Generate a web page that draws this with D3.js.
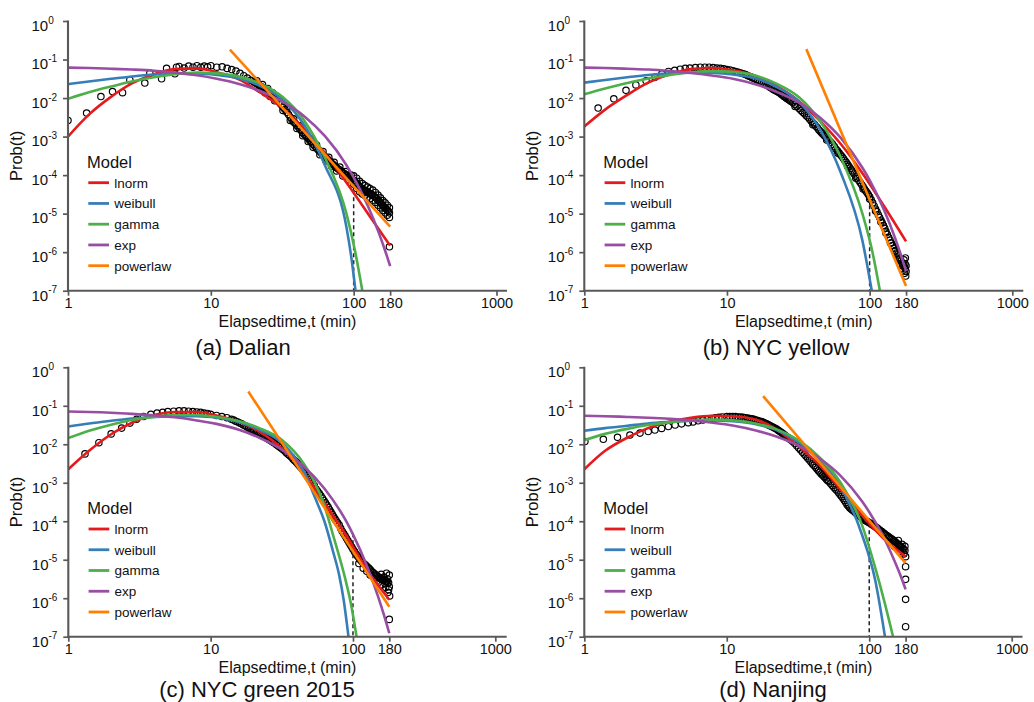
<!DOCTYPE html>
<html><head><meta charset="utf-8">
<script src="https://cdn.jsdelivr.net/npm/d3@7"></script>
<style>body{margin:0;background:#fff;} svg{display:block;font-family:"Liberation Sans",Arial,sans-serif;}</style>
</head><body><svg id="c" width="1034" height="702"></svg>
<script>
// ---------------- DATA ----------------
const models = ["lnorm","weibull","gamma","exp","powerlaw"];
const modelColors = ["#E41A1C","#377EB8","#4DAF4A","#984EA3","#FF7F00"];
const xTicks = [1,10,100,180,1000];
const yTickExps = [0,-1,-2,-3,-4,-5,-6,-7];
const captions = ["(a) Dalian","(b) NYC yellow","(c) NYC green 2015","(d) Nanjing"];
const xTitle = "Elapsedtime,t (min)";
const yTitle = "Prob(t)";
const legendTitle = "Model";
const cutoffT = 100;
const cutoffTopLog = [-4.03,-4.6,-4.31,-4.05];

// empirical points: [t (min), log10 Prob(t)]
const dalianPoints = [[1,-2.58],[1.35,-2.39],[1.7,-1.96],[2.05,-1.83],[2.41,-1.86],[2.71,-1.53],[3.45,-1.61],[3.74,-1.36],[4.52,-1.5],[4.9,-1.23],[5.6,-1.37],[5.75,-1.2],
[6,-1.18],[6.5,-1.22],[7,-1.17],[7.5,-1.2],[8,-1.16],[8.5,-1.2],[9,-1.17],[9.5,-1.19],[10,-1.16],[11,-1.2],[12,-1.19],[13,-1.23],[14,-1.26],[15,-1.3],[16,-1.36],[17,-1.42],[18,-1.48],[19,-1.54],[20,-1.58],[21,-1.63],[22,-1.68],[23,-1.73],[24,-1.78],[25,-1.83],[26,-1.88],[27,-1.94],[28,-1.99],[30,-2.1],[32,-2.24],[34,-2.37],[36,-2.5],[38,-2.62],[40,-2.71],[42,-2.8],[44,-2.9],[46,-2.98],[48,-3.05],[50,-3.13],[52,-3.2],[55,-3.3],[58,-3.39],[61,-3.47],[64,-3.55],[67,-3.62],[70,-3.69],[73,-3.75],[76,-3.81],[80,-3.87],[84,-3.94],[88,-3.99],[92,-4.04],[96,-4.09],[100,-4.14],[105,-4.22],[110,-4.3],[115,-4.36],[120,-4.4],[125,-4.44],[130,-4.48],[136,-4.52],[142,-4.58],[148,-4.65],[154,-4.72],[160,-4.79],[166,-4.85],[172,-4.91],[178,-4.98],
[20.5,-1.6],[21.5,-1.65],[22.5,-1.7],[23.5,-1.75],[24.5,-1.8],[25.5,-1.85],[26.5,-1.91],[27.5,-1.96],[29,-2.04],[31,-2.17],[33,-2.3],[35,-2.43],[37,-2.56],[39,-2.66],[41,-2.75],[43,-2.85],[45,-2.94],[47,-3.01],[49,-3.09],[51,-3.16],[53.5,-3.25],[56.5,-3.35],[59.5,-3.43],[62.5,-3.51],[65.5,-3.58],[68.5,-3.65],[71.5,-3.72],[74.5,-3.78],[78,-3.84],[82,-3.9],[86,-3.96],[90,-4.01],[94,-4.06],[98,-4.11],[102.5,-4.18],[107.5,-4.26],[112.5,-4.33],[117.5,-4.38],[122.5,-4.42],[127.5,-4.46],[133,-4.5],[139,-4.55],[145,-4.61],[151,-4.68],[157,-4.75],[163,-4.82],[169,-4.88],[175,-4.94],
[21,-1.55],[23,-1.65],[25,-1.75],[27,-1.86],[30,-2.02],[34,-2.29],[38,-2.54],[42,-2.72],[46,-2.9],[50,-3.05],[55,-3.22],[61,-3.39],[67,-3.54],[73,-3.67],[80,-3.79],[88,-3.91],[96,-4.0],[100,-4.02],[105,-4.08],[110,-4.16],[115,-4.22],[120,-4.27],[125,-4.31],[130,-4.35],[136,-4.39],[142,-4.45],[148,-4.52],[154,-4.59],[160,-4.66],[166,-4.72],[172,-4.78],[178,-4.85],
[22,-1.76],[24,-1.86],[26,-1.96],[28,-2.07],[32,-2.32],[36,-2.58],[40,-2.79],[44,-2.98],[48,-3.13],[52,-3.28],[58,-3.47],[64,-3.63],[70,-3.77],[76,-3.89],[84,-4.02],[92,-4.12],[100,-4.24],[105,-4.35],[110,-4.43],[115,-4.49],[120,-4.53],[125,-4.57],[130,-4.61],[136,-4.65],[142,-4.71],[148,-4.78],[154,-4.85],[160,-4.92],[166,-4.98],[172,-5.04],[178,-5.1],
[178,-5.86]];
const nycYellowPoints = [[1.25,-2.26],[1.61,-2.02],[1.96,-1.8],[2.3,-1.66],[2.71,-1.55],[3.13,-1.46],[3.5,-1.37],[3.89,-1.31],[4.3,-1.28],[4.7,-1.25],[5.1,-1.23],[5.5,-1.22],[6,-1.21],[6.5,-1.2],[7,-1.2],[7.5,-1.2],[8,-1.21],[8.5,-1.22],[9,-1.23],[9.5,-1.24],[10,-1.26],[11,-1.29],[12,-1.33],[13,-1.37],[14,-1.42],[15,-1.47],[16,-1.52],[17,-1.57],[18,-1.62],[19,-1.67],[20,-1.72],[21,-1.77],[22,-1.81],[23,-1.85],[24,-1.9],[25,-1.95],[26,-2.0],[27,-2.04],[28,-2.08],[30,-2.17],[32,-2.27],[34,-2.37],[36,-2.46],[38,-2.55],[40,-2.64],[42,-2.73],[44,-2.82],[46,-2.9],[48,-2.97],[50,-3.04],[52,-3.1],[55,-3.2],[58,-3.32],[61,-3.42],[64,-3.52],[67,-3.62],[70,-3.72],[73,-3.82],[76,-3.92],[80,-4.03],[84,-4.14],[88,-4.25],[92,-4.36],[96,-4.46],[100,-4.56],[105,-4.72],[110,-4.88],[115,-5.03],[120,-5.17],[125,-5.31],[130,-5.46],[136,-5.62],[142,-5.76],[148,-5.9],[154,-6.02],[160,-6.13],[166,-6.23],[172,-6.33],[178,-6.43],
[10.5,-1.27],[11.5,-1.31],[12.5,-1.35],[13.5,-1.39],[14.5,-1.44],[15.5,-1.49],[16.5,-1.54],[17.5,-1.59],[18.5,-1.64],[19.5,-1.69],[20.5,-1.74],[21.5,-1.79],[22.5,-1.83],[23.5,-1.87],[24.5,-1.92],[25.5,-1.97],[26.5,-2.02],[27.5,-2.06],[29,-2.12],[31,-2.22],[33,-2.32],[35,-2.41],[37,-2.5],[39,-2.6],[41,-2.68],[43,-2.77],[45,-2.86],[47,-2.93],[49,-3.0],[51,-3.07],[53.5,-3.15],[56.5,-3.26],[59.5,-3.37],[62.5,-3.47],[65.5,-3.57],[68.5,-3.67],[71.5,-3.77],[74.5,-3.87],[78,-3.97],[82,-4.08],[86,-4.2],[90,-4.3],[94,-4.41],[98,-4.51],[102.5,-4.64],[107.5,-4.8],[112.5,-4.95],[117.5,-5.1],[122.5,-5.24],[127.5,-5.38],[133,-5.54],[139,-5.69],[145,-5.83],[151,-5.96],[157,-6.07],[163,-6.18],[169,-6.28],[175,-6.38],
[174,-6.2],[176,-6.55],[178,-6.15],[179,-6.62],[180,-6.35],[177,-6.3],[180,-6.5],
[30,-2.22],[40,-2.69],[50,-3.09],[60,-3.43],[70,-3.77],[80,-4.08],[90,-4.36],[100,-4.62],[110,-4.93],[120,-5.22],[130,-5.5],[140,-5.76],[150,-5.98],[160,-6.18],[170,-6.35]];
const nycGreenPoints = [[1.31,-2.25],[1.64,-1.96],[2.0,-1.73],[2.37,-1.58],[2.71,-1.45],[3.02,-1.35],[3.38,-1.28],[3.8,-1.22],[4.2,-1.19],[4.6,-1.17],[5,-1.15],[5.5,-1.14],[6,-1.13],[6.5,-1.13],[7,-1.14],[7.5,-1.15],[8,-1.16],[8.5,-1.17],[9,-1.19],[9.5,-1.2],[10,-1.22],[11,-1.25],[12,-1.28],[13,-1.31],[14,-1.35],[15,-1.4],[16,-1.45],[17,-1.5],[18,-1.55],[19,-1.6],[20,-1.64],[21,-1.68],[22,-1.72],[23,-1.76],[24,-1.8],[25,-1.85],[26,-1.89],[27,-1.93],[28,-1.97],[30,-2.05],[32,-2.13],[34,-2.22],[36,-2.3],[38,-2.39],[40,-2.47],[42,-2.56],[44,-2.64],[46,-2.73],[48,-2.82],[50,-2.92],[52,-3.01],[55,-3.16],[58,-3.28],[61,-3.4],[64,-3.52],[67,-3.64],[70,-3.76],[73,-3.88],[76,-3.98],[80,-4.1],[84,-4.26],[88,-4.38],[92,-4.5],[96,-4.62],[100,-4.73],[105,-4.85],[110,-4.95],[115,-5.04],[120,-5.11],[125,-5.17],[130,-5.23],[136,-5.31],[142,-5.37],[148,-5.42],[154,-5.47],[160,-5.51],[166,-5.54],[172,-5.57],[178,-5.6],
[14.5,-1.37],[15.5,-1.42],[16.5,-1.47],[17.5,-1.52],[18.5,-1.57],[19.5,-1.62],[20.5,-1.66],[21.5,-1.7],[22.5,-1.74],[23.5,-1.78],[24.5,-1.82],[25.5,-1.87],[26.5,-1.91],[27.5,-1.95],[29,-2.01],[31,-2.09],[33,-2.17],[35,-2.26],[37,-2.34],[39,-2.43],[41,-2.51],[43,-2.6],[45,-2.68],[47,-2.77],[49,-2.87],[51,-2.96],[53.5,-3.08],[56.5,-3.22],[59.5,-3.34],[62.5,-3.46],[65.5,-3.58],[68.5,-3.7],[71.5,-3.82],[74.5,-3.93],[78,-4.04],[82,-4.18],[86,-4.32],[90,-4.44],[94,-4.56],[98,-4.67],[102.5,-4.79],[107.5,-4.9],[112.5,-5.0],[117.5,-5.08],[122.5,-5.14],[127.5,-5.2],[133,-5.27],[139,-5.34],[145,-5.4],[151,-5.45],[157,-5.49],[163,-5.53],[169,-5.56],[175,-5.59],
[110,-5.1],[118,-5.22],[125,-5.3],[132,-5.4],[145,-5.5],[150,-5.6],[158,-5.38],[160,-5.65],[165,-5.45],[168,-5.62],[170,-5.72],[172,-5.35],[175,-5.5],[176,-5.85],[178,-5.78],[180,-5.4],[180,-5.7],[181,-5.94],[180,-6.55]];
const nanjingPoints = [[1.01,-1.93],[1.36,-1.87],[1.71,-1.82],[2.09,-1.76],[2.46,-1.71],[2.81,-1.67],[3.13,-1.63],[3.49,-1.59],[3.89,-1.54],[4.34,-1.5],[4.82,-1.47],[5.37,-1.44],[5.8,-1.42],[6.3,-1.39],[6.8,-1.37],[7.3,-1.35],[7.8,-1.33],[8.3,-1.31],[8.8,-1.3],[9.3,-1.29],[10,-1.28],[11,-1.28],[12,-1.29],[13,-1.3],[14,-1.32],[15,-1.34],[16,-1.37],[17,-1.4],[18,-1.43],[19,-1.47],[20,-1.51],[21,-1.55],[22,-1.59],[23,-1.64],[24,-1.69],[25,-1.74],[26,-1.79],[27,-1.83],[28,-1.88],[30,-1.98],[32,-2.1],[34,-2.21],[36,-2.31],[38,-2.41],[40,-2.51],[42,-2.6],[44,-2.69],[46,-2.77],[48,-2.84],[50,-2.91],[52,-2.97],[55,-3.07],[58,-3.17],[61,-3.26],[64,-3.36],[67,-3.46],[70,-3.57],[73,-3.65],[76,-3.71],[80,-3.78],[84,-3.84],[88,-3.9],[92,-3.96],[96,-4.0],[100,-4.04],[105,-4.09],[110,-4.14],[115,-4.19],[120,-4.25],[125,-4.3],[130,-4.35],[136,-4.4],[142,-4.45],[148,-4.5],[154,-4.55],[160,-4.61],[166,-4.66],[172,-4.71],[178,-4.76],
[10.5,-1.28],[11.5,-1.28],[12.5,-1.29],[13.5,-1.31],[14.5,-1.33],[15.5,-1.35],[16.5,-1.38],[17.5,-1.41],[18.5,-1.45],[19.5,-1.49],[20.5,-1.53],[21.5,-1.57],[22.5,-1.61],[23.5,-1.66],[24.5,-1.71],[25.5,-1.76],[26.5,-1.81],[27.5,-1.85],[29,-1.93],[31,-2.04],[33,-2.15],[35,-2.26],[37,-2.36],[39,-2.46],[41,-2.55],[43,-2.64],[45,-2.73],[47,-2.8],[49,-2.87],[51,-2.94],[53.5,-3.02],[56.5,-3.12],[59.5,-3.21],[62.5,-3.31],[65.5,-3.41],[68.5,-3.51],[71.5,-3.61],[74.5,-3.68],[78,-3.74],[82,-3.81],[86,-3.87],[90,-3.93],[94,-3.98],[98,-4.02],[102.5,-4.06],[107.5,-4.11],[112.5,-4.16],[117.5,-4.22],[122.5,-4.27],[127.5,-4.32],[133,-4.37],[139,-4.42],[145,-4.47],[151,-4.52],[157,-4.58],[163,-4.63],[169,-4.68],[175,-4.73],
[140,-4.55],[150,-4.65],[160,-4.5],[165,-4.78],[170,-4.6],[175,-4.85],[178,-4.65],[180,-4.92],[180,-5.18],[180,-5.51],[180,-6.03],[180,-6.74]];

// fitted model curves: [t (min), log10 Prob(t)]
const dalianLnorm = [[1,-3.0],[1.4,-2.43],[2,-1.97],[2.8,-1.62],[4,-1.38],[5.6,-1.25],[8,-1.23],[11,-1.33],[16,-1.53],[22,-1.85],[32,-2.27],[45,-2.8],[63,-3.44],[89,-4.19],[126,-5.0],[180,-5.83]];
const dalianWeibull = [[1,-1.64],[1.4,-1.57],[2,-1.5],[2.8,-1.44],[4,-1.39],[5.6,-1.36],[8,-1.36],[11,-1.4],[16,-1.5],[22,-1.68],[32,-2.05],[45,-2.7],[63,-3.75],[89,-5.35],[96,-6.1],[103,-7.0]];
const dalianGamma = [[1,-2.02],[1.4,-1.85],[2,-1.7],[2.8,-1.57],[4,-1.46],[5.6,-1.38],[8,-1.34],[11,-1.36],[16,-1.45],[22,-1.62],[32,-1.98],[45,-2.58],[63,-3.55],[89,-5.0],[102,-5.95],[115,-7.0]];
const dalianExp = [[1,-1.21],[1.4,-1.22],[2,-1.24],[2.8,-1.26],[4,-1.29],[5.6,-1.34],[8,-1.41],[11,-1.5],[16,-1.64],[22,-1.81],[32,-2.1],[45,-2.47],[63,-2.99],[89,-3.74],[100,-4.06],[126,-4.81],[150,-5.5],[165,-5.93],[180,-6.36]];
const dalianPowerlaw = [[13.6,-0.74],[180,-5.34]];

const nycYellowLnorm = [[1,-2.74],[1.4,-2.3],[2,-1.92],[2.8,-1.6],[4,-1.38],[5.6,-1.25],[8,-1.22],[11,-1.28],[16,-1.43],[22,-1.68],[32,-2.08],[45,-2.6],[63,-3.2],[89,-3.95],[126,-4.8],[180,-5.72]];
const nycYellowWeibull = [[1,-1.6],[1.4,-1.53],[2,-1.46],[2.8,-1.4],[4,-1.36],[5.6,-1.34],[8,-1.35],[11,-1.39],[16,-1.49],[22,-1.7],[32,-2.1],[45,-2.82],[63,-3.95],[89,-5.7],[103.5,-7.0]];
const nycYellowGamma = [[1,-1.9],[1.4,-1.75],[2,-1.61],[2.8,-1.49],[4,-1.4],[5.6,-1.33],[8,-1.3],[11,-1.32],[16,-1.42],[22,-1.62],[32,-1.98],[45,-2.6],[63,-3.55],[89,-5.0],[104,-5.95],[118,-7.0]];
const nycYellowExp = [[1,-1.21],[1.4,-1.22],[2,-1.24],[2.8,-1.26],[4,-1.3],[5.6,-1.35],[8,-1.42],[11,-1.5],[16,-1.65],[22,-1.83],[32,-2.12],[45,-2.51],[63,-3.04],[89,-3.81],[100,-4.13],[126,-4.9],[150,-5.61],[165,-6.05],[180,-6.49]];
const nycYellowPowerlaw = [[36,-0.73],[180,-6.88]];

const nycGreenLnorm = [[1,-2.65],[1.4,-2.17],[2,-1.74],[2.8,-1.44],[4,-1.24],[5.6,-1.16],[8,-1.16],[11,-1.25],[16,-1.42],[22,-1.67],[32,-2.12],[45,-2.73],[63,-3.52],[89,-4.35],[126,-5.27],[180,-6.04]];
const nycGreenWeibull = [[1,-1.54],[1.4,-1.46],[2,-1.39],[2.8,-1.33],[4,-1.29],[5.6,-1.27],[8,-1.27],[11,-1.31],[16,-1.43],[22,-1.62],[32,-1.98],[45,-2.7],[55,-3.45],[63,-4.0],[73,-4.83],[80,-5.4],[86,-6.04],[93,-7.0]];
const nycGreenGamma = [[1,-1.84],[1.4,-1.65],[2,-1.49],[2.8,-1.37],[4,-1.29],[5.6,-1.24],[8,-1.24],[11,-1.29],[16,-1.4],[22,-1.58],[32,-1.9],[45,-2.5],[63,-3.6],[73,-4.4],[89,-5.55],[95.5,-6.04],[106,-7.0]];
const nycGreenExp = [[1,-1.15],[1.4,-1.16],[2,-1.18],[2.8,-1.21],[4,-1.25],[5.6,-1.3],[8,-1.38],[11,-1.47],[16,-1.63],[22,-1.83],[32,-2.15],[45,-2.57],[63,-3.15],[89,-3.98],[100,-4.34],[126,-5.18],[150,-5.95],[165,-6.43],[180,-6.91]];
const nycGreenPowerlaw = [[18.4,-0.63],[180,-6.22]];

const nanjingLnorm = [[1,-2.65],[1.4,-2.17],[2,-1.83],[2.8,-1.58],[4,-1.41],[5.6,-1.31],[8,-1.26],[11,-1.27],[16,-1.36],[22,-1.6],[32,-2.05],[45,-2.55],[63,-3.18],[89,-3.85],[126,-4.45],[180,-4.92]];
const nanjingWeibull = [[1,-1.65],[1.4,-1.58],[2,-1.52],[2.8,-1.46],[4,-1.42],[5.6,-1.39],[8,-1.38],[11,-1.4],[16,-1.48],[22,-1.62],[32,-1.95],[45,-2.42],[63,-3.1],[89,-4.35],[110,-5.52],[129,-7.0]];
const nanjingGamma = [[1,-1.89],[1.4,-1.73],[2,-1.6],[2.8,-1.5],[4,-1.43],[5.6,-1.38],[8,-1.36],[11,-1.38],[16,-1.46],[22,-1.6],[32,-1.9],[45,-2.35],[63,-3.0],[89,-4.1],[110,-5.2],[128,-6.1],[147,-7.0]];
const nanjingExp = [[1,-1.26],[1.4,-1.27],[2,-1.29],[2.8,-1.31],[4,-1.34],[5.6,-1.38],[8,-1.44],[11,-1.51],[16,-1.64],[22,-1.79],[32,-2.04],[45,-2.37],[63,-2.82],[89,-3.48],[100,-3.76],[126,-4.41],[150,-5.02],[165,-5.39],[180,-5.77]];
const nanjingPowerlaw = [[18,-0.75],[180,-5.09]];

// ---------------- BUILD ----------------
const panelPoints = [dalianPoints, nycYellowPoints, nycGreenPoints, nanjingPoints];
const panelFits = [
  [dalianLnorm, dalianWeibull, dalianGamma, dalianExp, dalianPowerlaw],
  [nycYellowLnorm, nycYellowWeibull, nycYellowGamma, nycYellowExp, nycYellowPowerlaw],
  [nycGreenLnorm, nycGreenWeibull, nycGreenGamma, nycGreenExp, nycGreenPowerlaw],
  [nanjingLnorm, nanjingWeibull, nanjingGamma, nanjingExp, nanjingPowerlaw]
];

// layout (pixels)
const layout = [
  {x1:68,   x1000:496.5,  xEnd:507,    yTop:21,    yBot:290.7, capX:243, capY:355},
  {x1:584.3,x1000:1012.3, xEnd:1023.3, yTop:21,    yBot:290.7, capX:776, capY:355},
  {x1:68.3, x1000:495.3,  xEnd:506.7,  yTop:367.3, yBot:636.7, capX:257, capY:696.5},
  {x1:584.3,x1000:1011.7, xEnd:1022.5, yTop:367.3, yBot:636.7, capX:773, capY:696.5}
];
const AXIS = "#595959", TXT = "#111";
const svg = d3.select("#c");
const defs = svg.append("defs");

layout.forEach((L, i) => {
  const x = d3.scaleLog().domain([1,1000]).range([L.x1, L.x1000]);
  const y = d3.scaleLog().domain([1e-7,1]).range([L.yBot, L.yTop]);
  const g = svg.append("g");
  const cid = "clip" + i;
  defs.append("clipPath").attr("id", cid).append("rect")
    .attr("x", L.x1).attr("y", L.yTop - 30).attr("width", L.xEnd - L.x1 + 10).attr("height", L.yBot - L.yTop + 30);
  const plot = g.append("g").attr("clip-path", `url(#${cid})`);

  plot.append("g").selectAll("circle").data(panelPoints[i]).join("circle")
    .attr("cx", d => x(d[0])).attr("cy", d => y(Math.pow(10, d[1])))
    .attr("r", 3.2).attr("fill", "none").attr("stroke", "#000").attr("stroke-width", 1.15);

  plot.append("line")
    .attr("x1", x(cutoffT)).attr("x2", x(cutoffT))
    .attr("y1", y(Math.pow(10, cutoffTopLog[i]))).attr("y2", L.yBot)
    .attr("stroke", "#222").attr("stroke-width", 1.5).attr("stroke-dasharray", "4,3");

  const line = d3.line().x(d => x(d[0])).y(d => y(Math.pow(10, d[1]))).curve(d3.curveMonotoneX);
  panelFits[i].forEach((f, k) => {
    plot.append("path").attr("d", line(f)).attr("fill", "none")
      .attr("stroke", modelColors[k]).attr("stroke-width", 2.6).attr("stroke-linecap", "butt");
  });

  // x axis
  const xa = g.append("g").attr("transform", `translate(0,${L.yBot})`)
    .call(d3.axisBottom(x).tickValues(xTicks).tickFormat(d => String(d)).tickSize(5).tickSizeOuter(0).tickPadding(2.3));
  xa.select(".domain").remove();
  xa.selectAll(".tick line").attr("stroke", AXIS).attr("stroke-width", 1.7);
  xa.selectAll(".tick text").attr("fill", TXT).attr("font-size", 14.5).attr("font-family", "Liberation Sans, Arial, sans-serif");
  g.append("line").attr("x1", L.x1 - 0.8).attr("x2", L.xEnd).attr("y1", L.yBot).attr("y2", L.yBot)
    .attr("stroke", AXIS).attr("stroke-width", 2.1);

  // y axis
  const ya = g.append("g").attr("transform", `translate(${L.x1},0)`)
    .call(d3.axisLeft(y).tickValues(yTickExps.map(e => Math.pow(10, e))).tickFormat("").tickSize(5).tickSizeOuter(0));
  ya.select(".domain").remove();
  ya.selectAll(".tick line").attr("stroke", AXIS).attr("stroke-width", 1.7);
  g.append("line").attr("x1", L.x1).attr("x2", L.x1).attr("y1", L.yTop - 0.5).attr("y2", L.yBot + 0.8)
    .attr("stroke", AXIS).attr("stroke-width", 2.1);
  yTickExps.forEach(e => {
    const t = g.append("text").attr("x", L.x1 - 36.5).attr("y", y(Math.pow(10, e)) + 9.8).attr("fill", TXT);
    t.append("tspan").attr("font-size", 15).text("10");
    t.append("tspan").attr("font-size", 10).attr("dy", -7.2).text(String(e));
  });

  // titles
  g.append("text").attr("x", (L.x1 + L.xEnd) / 2).attr("y", L.yBot + 36).attr("text-anchor", "middle")
    .attr("font-size", 16).attr("fill", TXT).text(xTitle);
  g.append("text").attr("transform", `translate(${L.x1 - 46},${(L.yTop + L.yBot) / 2}) rotate(-90)`)
    .attr("text-anchor", "middle").attr("font-size", 16.5).attr("fill", TXT).text(yTitle);

  // legend
  g.append("text").attr("x", L.x1 + 19).attr("y", L.yTop + 146.5).attr("font-size", 16.5).attr("fill", TXT).text(legendTitle);
  models.forEach((m, k) => {
    const ry = L.yTop + 161.7 + k * 20.75;
    g.append("line").attr("x1", L.x1 + 20.3).attr("x2", L.x1 + 41).attr("y1", ry).attr("y2", ry)
      .attr("stroke", modelColors[k]).attr("stroke-width", 2.8);
    g.append("text").attr("x", L.x1 + 46.3).attr("y", ry + 4.8).attr("font-size", 13.5).attr("fill", TXT).text(m);
  });

  // caption
  svg.append("text").attr("x", L.capX).attr("y", L.capY).attr("text-anchor", "middle")
    .attr("font-size", 22).attr("fill", "#111").text(captions[i]);
});
</script></body></html>
